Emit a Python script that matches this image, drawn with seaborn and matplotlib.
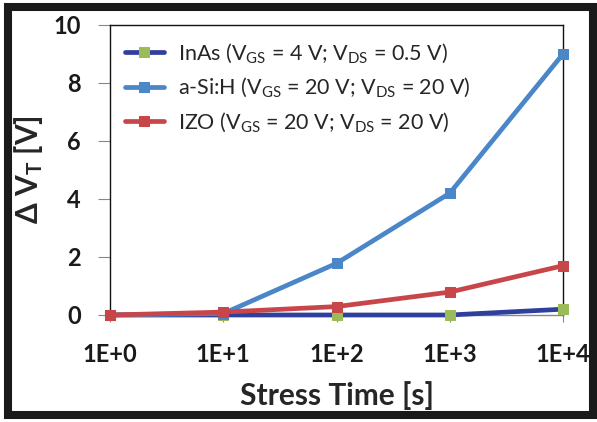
import matplotlib
matplotlib.use("Agg")
import matplotlib.pyplot as plt
import seaborn as sns
import pandas as pd
from matplotlib.patches import Rectangle

sns.set_style("white")
plt.rcParams['font.family'] = ['Lato', 'DejaVu Sans']
plt.rcParams['mathtext.default'] = 'regular'

x_labels = ["1E+0", "1E+1", "1E+2", "1E+3", "1E+4"]
inas = [0.0, 0.0, 0.0, 0.0, 0.2]
asih = [0.0, 0.05, 1.78, 4.2, 9.0]
izo = [0.0, 0.1, 0.29, 0.79, 1.7]

labels = [r"InAs (V$_{GS}$ = 4 V; V$_{DS}$ = 0.5 V)",
          r"a-Si:H (V$_{GS}$ = 20 V; V$_{DS}$ = 20 V)",
          r"IZO (V$_{GS}$ = 20 V; V$_{DS}$ = 20 V)"]
line_colors = ["#2e3f9e", "#4a86c8", "#c8464a"]
marker_colors = ["#9bbb59", "#4a86c8", "#c8464a"]
series = [inas, asih, izo]

fig = plt.figure(figsize=(5.97, 4.22), dpi=100)
ax = fig.add_axes([110/597, 1-315/422, (563-110)/597, (315-25)/422])

xs = list(range(len(x_labels)))
for vals, lab, lc, mc in zip(series, labels, line_colors, marker_colors):
    df = pd.DataFrame({"x": xs, "y": vals})
    sns.lineplot(data=df, x="x", y="y", ax=ax, color=lc, linewidth=3.4,
                 marker="s", markersize=7, markerfacecolor=mc, markeredgecolor=mc,
                 label=lab, clip_on=False, zorder=3)

ax.set_xlim(0, 4)
ax.set_ylim(0, 10)
ax.set_xticks(xs)
ax.set_xticklabels(x_labels)
ax.set_yticks([0, 2, 4, 6, 8, 10])
for t in ax.get_xticklabels() + ax.get_yticklabels():
    t.set_fontweight("bold")
    t.set_fontsize(17)
    t.set_color("#1a1a1a")
ax.tick_params(axis="y", direction="out", length=9, width=0.8, color="#888888", pad=12, left=True)
ax.tick_params(axis="x", direction="out", length=5, width=0.8, color="#888888", pad=15, bottom=True)

for s in ["left", "top", "right"]:
    ax.spines[s].set_color("#111111")
    ax.spines[s].set_linewidth(1.0)
ax.spines["bottom"].set_color("#888888")
ax.spines["bottom"].set_linewidth(1.0)

ax.set_xlabel("Stress Time [s]", fontsize=21.5, fontweight="bold", labelpad=11)
ax.set_ylabel(r"Δ V$_{T}$ [V]", fontsize=21.5, fontweight="bold", labelpad=6)

leg = ax.legend(loc="upper left", bbox_to_anchor=(0.0, 0.995), frameon=False,
                fontsize=15.5, handlelength=1.8, handletextpad=0.65, labelspacing=0.5,
                borderaxespad=0.3)

fig.patches.append(Rectangle((8/597, 7/422), (593-8)/597, (415-7)/422,
                             transform=fig.transFigure, fill=False,
                             edgecolor="#1a1a1a", linewidth=5.8))

fig.savefig("out.png", dpi=100)
